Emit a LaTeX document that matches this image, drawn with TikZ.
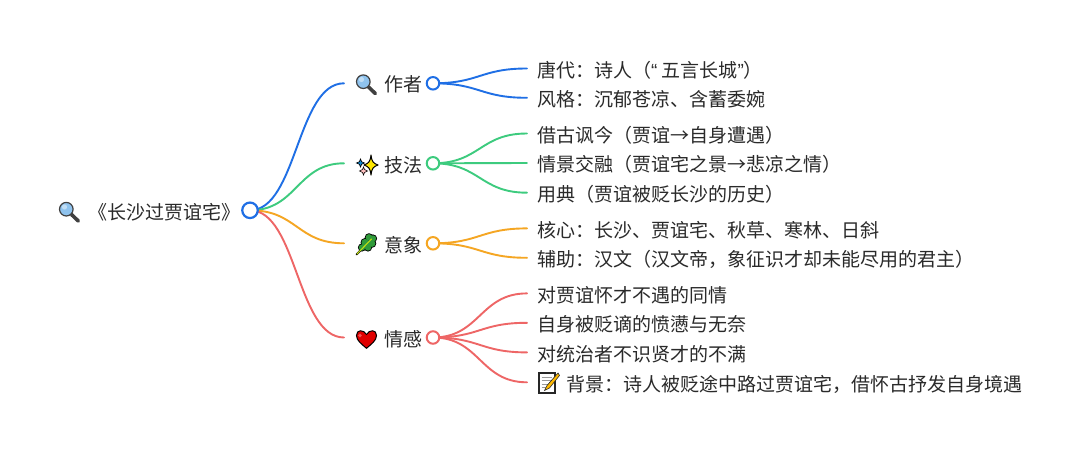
\documentclass[tikz,border=0pt]{standalone}
\usepackage{fontspec}
\usetikzlibrary{backgrounds}
\setmainfont{Noto Sans CJK SC}
\newfontfamily\quotefont{Liberation Sans}
\definecolor{cblue}{HTML}{1F6FE5}
\definecolor{cgreen}{HTML}{3DCB7E}
\definecolor{corange}{HTML}{F5A623}
\definecolor{cred}{HTML}{EE6666}
\definecolor{ink}{HTML}{2A2A2A}
\definecolor{glass}{HTML}{8FC3EE}
\definecolor{leafg}{HTML}{2F9A3A}
\tikzset{
  x=1pt,y=-1pt,
  lbl/.style={anchor=west,inner ysep=0pt,text height=17.4pt,text depth=0pt,font=\fontsize{19}{22}\selectfont,text=ink},
  leaf/.style={lbl,inner xsep=10pt},
  branch/.style={lbl,inner xsep=0pt,text width=78pt,align=right},
  rootlbl/.style={lbl,inner xsep=0pt},
  dot/.style={circle,draw=#1,fill=white,line width=2pt,minimum size=12.5pt,inner sep=0pt},
  rootdot/.style={circle,draw=#1,fill=white,line width=2.2pt,minimum size=15.5pt,inner sep=0pt},
  link/.style={draw=#1,line width=1.9pt,line cap=round},
}
\newcommand{\lensicon}[2]{\begin{scope}[shift={(#1,#2)}]
  \draw[line width=3.6pt,line cap=round,draw=black!75] (2,2.5) -- (8.8,9);
  \draw[draw=black!75,line width=1.2pt,fill=glass] (-3.2,-2.8) circle (6.8);
  \fill[white,opacity=.45] (-5,-5) circle (2.6);
\end{scope}}
\newcommand{\sparkleicon}[2]{\begin{scope}[shift={(#1,#2)}]
  \draw[draw=black,line width=1pt,line join=round,fill=yellow!90!orange] (4,-10) .. controls (5,-3) and (6,-2) .. (11,0) .. controls (6,2) and (5,3) .. (4,10) .. controls (3,3) and (2,2) .. (-3,0) .. controls (2,-2) and (3,-3) .. (4,-10) -- cycle;
  \draw[draw=black,line width=.6pt,fill=cyan!70!blue] (-6.5,-6) -- (-5.3,-3.2) -- (-2.5,-2) -- (-5.3,-.8) -- (-6.5,2) -- (-7.7,-.8) -- (-10.5,-2) -- (-7.7,-3.2) -- cycle;
  \draw[draw=black,line width=.6pt,fill=pink] (-3.5,2) -- (-2.5,4.5) -- (.5,6) -- (-2.5,7.5) -- (-3.5,10) -- (-4.5,7.5) -- (-7.5,6) -- (-4.5,4.5) -- cycle;
\end{scope}}
\newcommand{\herbicon}[2]{\begin{scope}[shift={(#1,#2)}]
  \foreach \a/\b/\r in {-4/3/3.2,-1/-2/3.6,2/3/3.2,3/-7/3.4,6/-1/3.4,7/-6/3.2,1/0/4}{\fill[black] (\a,\b) circle (\r+.9);}
  \draw[black,line width=2pt,line cap=round] (-9.5,10) -- (6,-6);
  \foreach \a/\b/\r in {-4/3/3.2,-1/-2/3.6,2/3/3.2,3/-7/3.4,6/-1/3.4,7/-6/3.2,1/0/4}{\fill[leafg] (\a,\b) circle (\r);}
  \draw[yellow!75!green,line width=1.1pt,line cap=round] (-9,9.5) -- (5.5,-5.5);
\end{scope}}
\newcommand{\hearticon}[2]{\begin{scope}[shift={(#1,#2)}]
  \draw[draw=black,line width=1pt,fill=red!88!black] (0,9.3) .. controls (-5,5) and (-10,1.5) .. (-10,-3.5) .. controls (-10,-9.5) and (-3,-9.8) .. (0,-4.5) .. controls (3,-9.8) and (10,-9.5) .. (10,-3.5) .. controls (10,1.5) and (5,5) .. (0,9.3) -- cycle;
  \fill[red!45!white,opacity=.6] (-6.5,-3.5) circle (1.8);
\end{scope}}
\newcommand{\memoicon}[2]{\begin{scope}[shift={(#1,#2)}]
  \draw[draw=black!85,line width=1.1pt,fill=white] (-9,-10) rectangle (7,10);
  \draw[black!40,line width=.7pt] (-6.5,-6) -- (4,-6) (-6.5,-2.5) -- (3,-2.5) (-6.5,1) -- (0,1) (-6.5,4.5) -- (-2,4.5);
  \draw[draw=black!85,line width=.6pt,fill=orange!55!yellow] (10,-10) -- (-1,2.5) -- (-3.5,7.5) -- (1.5,5) -- (11.5,-7.5) -- cycle;
\end{scope}}
\begin{document}
\begin{tikzpicture}
\useasboundingbox (0,0) rectangle (1080,452);
\node[rootlbl] (root) at (88,210.3) {《长沙过贾谊宅》};
\node[rootdot=cblue] (c0) at (250,210.3) {};
\node[branch] (b1) at (344,83.3) {作者};
\node[branch] (b2) at (344,163.3) {技法};
\node[branch] (b3) at (344,243.3) {意象};
\node[branch] (b4) at (344,337.5) {情感};
\node[dot=cblue] (c1) at (433,83.3) {};
\node[dot=cgreen] (c2) at (433,163.3) {};
\node[dot=corange] (c3) at (433,243.3) {};
\node[dot=cred] (c4) at (433,337.5) {};
\node[leaf] (a1) at (527,68.5) {唐代：诗人（{\quotefont “}\hspace{4pt}五言长城{\quotefont ”}）};
\node[leaf] (a2) at (527,97.8) {风格：沉郁苍凉、含蓄委婉};
\node[leaf] (t1) at (527,133.5) {借古讽今（贾谊→自身遭遇）};
\node[leaf] (t2) at (527,163) {情景交融（贾谊宅之景→悲凉之情）};
\node[leaf] (t3) at (527,192.7) {用典（贾谊被贬长沙的历史）};
\node[leaf] (y1) at (527,228.4) {核心：长沙、贾谊宅、秋草、寒林、日斜};
\node[leaf] (y2) at (527,257.8) {辅助：汉文（汉文帝，象征识才却未能尽用的君主）};
\node[leaf] (q1) at (527,293.4) {对贾谊怀才不遇的同情};
\node[leaf] (q2) at (527,322.8) {自身被贬谪的愤懑与无奈};
\node[leaf] (q3) at (527,352.4) {对统治者不识贤才的不满};
\node[leaf] (q4) at (527,382.3) {\hspace*{29pt}背景：诗人被贬途中路过贾谊宅，借怀古抒发自身境遇};
\begin{scope}[on background layer]
\fill[white] (0,0) rectangle (1080,452);
\foreach \e/\c in {b1/cblue,b2/cgreen,b3/corange,b4/cred}{
  \draw[link=\c] (c0.center) .. controls +(47,0) and +(-47,0) .. (\e.west);
}
\foreach \s/\e/\c in {c1/a1/cblue,c1/a2/cblue,c2/t1/cgreen,c2/t2/cgreen,c2/t3/cgreen,c3/y1/corange,c3/y2/corange,c4/q1/cred,c4/q2/cred,c4/q3/cred,c4/q4/cred}{
  \draw[link=\c] (\s.center) .. controls +(47,0) and +(-47,0) .. (\e.west);
}
\end{scope}
\lensicon{69.5}{212}
\lensicon{366.5}{84.5}
\sparkleicon{367}{165}
\herbicon{366}{244.5}
\hearticon{366.5}{339}
\memoicon{548}{383}
\end{tikzpicture}
\end{document}
